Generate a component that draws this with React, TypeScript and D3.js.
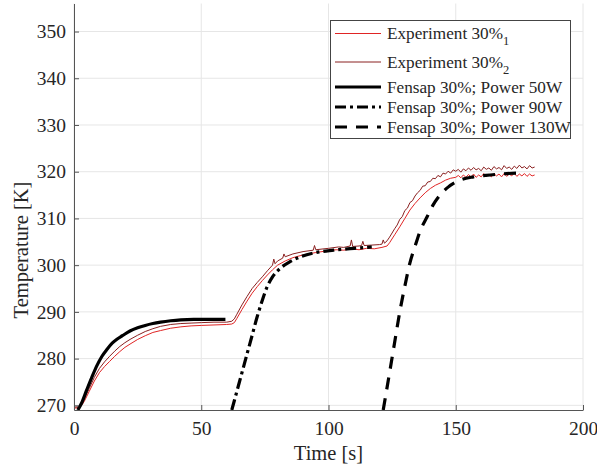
import React, { useRef, useEffect } from "react";
import * as d3 from "d3";

const W = 597;
const H = 467;
const margin = { left: 74, right: 14, top: 3.5, bottom: 57 };

const xTicks = [0, 50, 100, 150, 200];
const yTicks = [270, 280, 290, 300, 310, 320, 330, 340, 350];

// [time s, temperature K]
const exp1 = [
    [0, 269.4], [2, 269.5], [3, 270], [4, 270.8], [6, 273], [8, 275.2], [10, 277], [12, 278.3],
    [14, 279.4], [16, 280.5], [18, 281.5], [20, 282.4], [22, 283.1], [25, 284.1], [28, 284.9],
    [31, 285.6], [34, 286], [38, 286.5], [42, 286.8], [46, 287], [50, 287.1], [55, 287.2],
    [60, 287.3], [62, 287.4], [63, 287.7], [64, 288.6], [66, 290.5], [68, 292.3], [70, 294],
    [72, 295.4], [74, 296.7], [76, 297.9], [78, 299], [80, 300], [83, 300.9], [86, 301.6],
    [90, 302.2], [95, 302.7], [100, 303.1], [103, 303.3], [106, 303.2], [109, 303.5], [112, 303.3],
    [115, 303.6], [118, 303.5], [121, 303.8], [123, 304.1], [124, 304.8], [126, 306.5],
    [128, 308.2], [130, 310], [132, 311.8], [134, 313.2], [136, 314.4], [138, 315.5], [140, 316.4],
    [142, 317.1], [144, 317.6], [146, 318.2], [148, 318.6], [150, 318.8], [151, 319.2], [152, 318.7],
    [153, 319.3], [154, 318.8], [155, 319.4], [156, 318.9], [157, 319.5], [158, 318.8], [159, 319.3],
    [160, 318.9], [161, 319.6], [162, 319.0], [163, 319.4], [164, 318.9], [165, 319.6], [166, 319.1],
    [167, 319.5], [168, 318.9], [169, 319.6], [170, 319.0], [171, 319.5], [172, 319.1], [173, 319.7],
    [174, 319.0], [175, 319.5], [176, 319.1], [177, 319.6], [178, 319.0], [179, 319.5], [180, 319.1],
    [181, 319.3],
];

const exp2 = [
    [0, 269.6], [2, 269.7], [3, 270.3], [4, 271.3], [6, 273.6], [8, 276], [10, 277.9], [12, 279.3],
    [14, 280.5], [16, 281.6], [18, 282.6], [20, 283.4], [22, 284.1], [25, 285], [28, 285.8],
    [31, 286.4], [34, 286.9], [38, 287.3], [42, 287.5], [46, 287.6], [50, 287.7], [55, 287.8],
    [60, 287.8], [62, 288], [63, 288.5], [64, 289.5], [66, 291.5], [68, 293.3], [70, 295],
    [72, 296.3], [74, 297.5], [76, 298.8], [78, 300], [78.5, 301.3], [79, 300.3], [80, 300.9],
    [82, 301.5], [82.5, 302.4], [83, 301.8], [86, 302.4], [90, 302.9], [94, 303.2], [94.5, 304.2],
    [95, 303.3], [100, 303.6], [104, 303.9], [106, 303.8], [108.5, 304.1], [109, 305.4],
    [109.5, 304], [112, 304.1], [113, 304.2], [113.5, 305.1], [114, 304.2], [117, 304.3],
    [120, 304.4], [121, 304.5], [121.5, 305.4], [122, 304.7], [123, 305.2], [124, 306],
    [126, 307.8], [127, 308.6], [128, 309.8], [129, 310.4], [130, 311.7], [131, 312.2],
    [132, 313.4], [133, 313.8], [134, 314.8], [135, 315.5], [136, 316], [137, 316.9], [138, 317],
    [139, 317.8], [140, 317.9], [141, 318.6], [142, 318.5], [143, 319.2], [144, 318.9],
    [145, 319.7], [146, 319.5], [147, 320.1], [148, 319.7], [149, 320.4], [150, 320.1],
    [151, 320.5], [152, 319.9], [153, 320.6], [154, 320.2], [155, 320.8], [156, 320.3],
    [157, 320.9], [158, 320.4], [159, 320.7], [160, 320.2], [161, 321.0], [162, 320.5],
    [163, 320.8], [164, 320.3], [165, 321.1], [166, 320.6], [167, 320.9], [168, 320.4],
    [169, 321.3], [170, 320.7], [171, 321.0], [172, 320.5], [173, 321.2], [174, 320.7],
    [175, 321.4], [176, 320.8], [177, 321.1], [178, 320.6], [179, 321.3], [180, 320.8], [181, 321.0],
];

const fensap50 = [
    [1.5, 269], [3, 270.5], [5, 273.3], [7, 276], [9, 278.5], [11, 280.5], [13, 282], [15, 283.3],
    [17, 284.2], [19, 284.9], [22, 285.9], [25, 286.6], [28, 287.1], [31, 287.5], [34, 287.8],
    [38, 288.1], [42, 288.3], [47, 288.4], [52, 288.4], [59.5, 288.4],
];

const fensap90 = [
    [62, 269], [64, 273], [66, 277], [68, 281], [70, 285], [72, 289], [74, 292.5], [76, 295.5],
    [78, 297.5], [81, 299.3], [85, 300.8], [89, 301.8], [95, 302.7], [102, 303.2], [110, 303.6],
    [117, 303.9],
];

const fensap130 = [
    [121.5, 269], [124, 277], [126, 283.5], [128, 290], [130, 295.5], [132, 300.5], [134, 304],
    [136, 307.3], [138.7, 310.3], [141, 312.8], [143.8, 315], [147, 316.7], [151.7, 318.2],
    [157, 318.9], [163.5, 319.3], [170, 319.6], [176, 319.7],
];

const series = [
    { name: "Experiment 30%", sub: "1", data: exp1, color: "#e02424", width: 1, dash: null, smooth: false },
    { name: "Experiment 30%", sub: "2", data: exp2, color: "#8a2020", width: 1, dash: null, smooth: false },
    { name: "Fensap 30%; Power 50W", sub: null, data: fensap50, color: "#000", width: 3.2, dash: null, smooth: true },
    { name: "Fensap 30%; Power 90W", sub: null, data: fensap90, color: "#000", width: 3.2, dash: "11,4,3,4", smooth: true },
    { name: "Fensap 30%; Power 130W", sub: null, data: fensap130, color: "#000", width: 3.2, dash: "12,9", smooth: true },
];

const FONT = "Liberation Serif";

const App = () => {
    const canvas = useRef(null);

    useEffect(() => {
        const root = d3.select(canvas.current);
        root.selectAll("*").remove();

        const svg = root
            .append("svg")
            .attr("width", W)
            .attr("height", H)
            .attr("font-family", FONT)
            .style("position", "absolute")
            .style("left", 0)
            .style("top", 0)
            .style("background", "#fff");

        const x = d3.scaleLinear().domain([0, 200]).range([margin.left, W - margin.right]);
        const y = d3.scaleLinear().domain([269, 356]).range([H - margin.bottom, margin.top]);

        // grid
        svg.append("g")
            .selectAll("line")
            .data(xTicks)
            .enter()
            .append("line")
            .attr("x1", (d) => x(d))
            .attr("x2", (d) => x(d))
            .attr("y1", y.range()[0])
            .attr("y2", y.range()[1])
            .attr("stroke", "#e6e6e6");
        svg.append("g")
            .selectAll("line")
            .data(yTicks)
            .enter()
            .append("line")
            .attr("x1", x.range()[0])
            .attr("x2", x.range()[1])
            .attr("y1", (d) => y(d))
            .attr("y2", (d) => y(d))
            .attr("stroke", "#e6e6e6");

        svg.append("clipPath")
            .attr("id", "plotclip")
            .append("rect")
            .attr("x", x.range()[0])
            .attr("y", y.range()[1])
            .attr("width", x.range()[1] - x.range()[0])
            .attr("height", y.range()[0] - y.range()[1]);

        const lines = svg.append("g").attr("clip-path", "url(#plotclip)");
        series.forEach((s) => {
            const line = d3
                .line()
                .x((d) => x(d[0]))
                .y((d) => y(d[1]))
                .curve(s.smooth ? d3.curveMonotoneX : d3.curveLinear);
            lines
                .append("path")
                .attr("d", line(s.data))
                .attr("fill", "none")
                .attr("stroke", s.color)
                .attr("stroke-width", s.width)
                .attr("stroke-dasharray", s.dash)
                .attr("stroke-linejoin", "round");
        });

        // axes
        const axisColor = "#555";
        const xAxis = svg
            .append("g")
            .attr("transform", "translate(0," + y.range()[0] + ")")
            .call(d3.axisBottom(x).tickValues(xTicks).tickSizeInner(-5).tickSizeOuter(0).tickPadding(11));
        const yAxis = svg
            .append("g")
            .attr("transform", "translate(" + x.range()[0] + ",0)")
            .call(d3.axisLeft(y).tickValues(yTicks).tickSizeInner(-5).tickSizeOuter(0).tickPadding(8));
        [xAxis, yAxis].forEach((g) => {
            g.attr("font-family", FONT).attr("font-size", 19.5);
            g.select(".domain").attr("stroke", axisColor);
            g.selectAll(".tick line").attr("stroke", axisColor);
            g.selectAll(".tick text").attr("fill", "#262626");
        });

        svg.append("text")
            .attr("x", (x.range()[0] + x.range()[1]) / 2)
            .attr("y", 460)
            .attr("text-anchor", "middle")
            .attr("fill", "#262626")
            .attr("font-size", 20.5)
            .text("Time [s]");

        svg.append("text")
            .attr("transform", "translate(28,250) rotate(-90)")
            .attr("text-anchor", "middle")
            .attr("fill", "#262626")
            .attr("font-size", 20.5)
            .text("Temperature [K]");

        // legend
        const leg = svg.append("g");
        leg.append("rect")
            .attr("x", 330.5)
            .attr("y", 20.5)
            .attr("width", 240)
            .attr("height", 118)
            .attr("fill", "#fff")
            .attr("stroke", "#444");
        const rowY = [33.5, 62, 87, 107, 127];
        series.forEach((s, i) => {
            leg.append("line")
                .attr("x1", 335)
                .attr("x2", 381)
                .attr("y1", rowY[i])
                .attr("y2", rowY[i])
                .attr("stroke", s.color)
                .attr("stroke-width", s.width)
                .attr("stroke-dasharray", s.dash);
            const t = leg
                .append("text")
                .attr("x", 387)
                .attr("y", rowY[i] + 5.5)
                .attr("fill", "#262626")
                .attr("font-size", 17.2)
                .text(s.name);
            if (s.sub) {
                t.append("tspan").attr("dy", 6).attr("font-size", 12.5).text(s.sub);
            }
        });
    }, []);

    return <div ref={canvas}></div>;
};

export default App;
